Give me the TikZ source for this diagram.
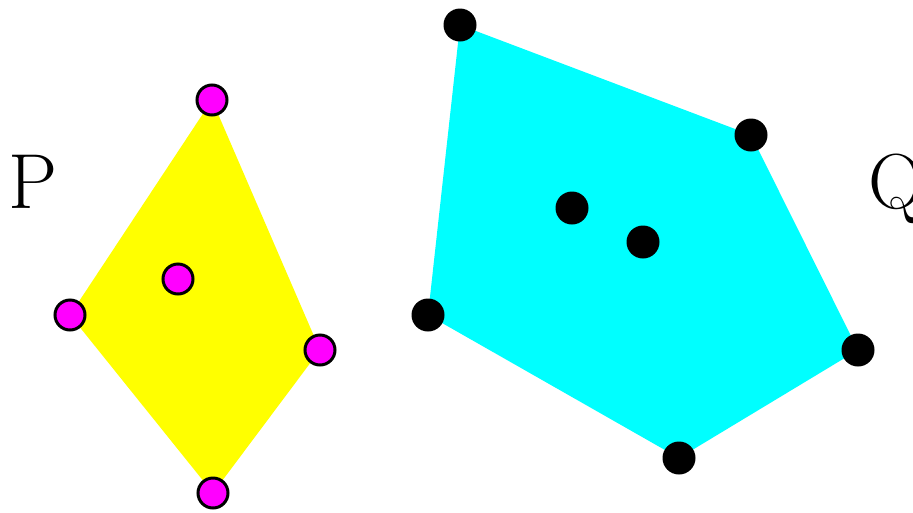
\documentclass[tikz,border=0pt]{standalone}
\usepackage{tikz}
\definecolor{hullP}{RGB}{255,255,0}
\definecolor{hullQ}{RGB}{0,255,255}
\definecolor{dotP}{RGB}{255,0,255}
\tikzset{%
  ptP/.style={fill=dotP, draw=black, line width=3pt},
  ptQ/.style={fill=black},
  setlabel/.style={inner sep=0pt, anchor=base, font=\fontsize{78}{80}\selectfont},
}

\begin{document}
\begin{tikzpicture}[x=1pt, y=-1pt]
    \useasboundingbox (0,0) rectangle (913,512);

    % points of P
    \coordinate (P1) at (212,100);
    \coordinate (P2) at (320,350);
    \coordinate (P3) at (213,493);
    \coordinate (P4) at (70,315);
    \coordinate (P5) at (178,279);

    % points of Q
    \coordinate (Q1) at (460,25);
    \coordinate (Q2) at (751,135);
    \coordinate (Q3) at (858,350);
    \coordinate (Q4) at (679,458);
    \coordinate (Q5) at (428,315);
    \coordinate (Q6) at (572,208);
    \coordinate (Q7) at (643,242);

    %hulls
    \fill[hullP] (P1) -- (P2) -- (P3) -- (P4) -- cycle;
    \fill[hullQ] (Q1) -- (Q2) -- (Q3) -- (Q4) -- (Q5) -- cycle;

    \foreach \p in {P1,P2,P3,P4,P5}
        \draw[ptP] (\p) circle (15);
    \foreach \q in {Q1,Q2,Q3,Q4,Q5,Q6,Q7}
        \fill[ptQ] (\q) circle (16.5);

    % set names
    \node[setlabel] (labP) at (33,208) {P};
    \node[setlabel] (labQ) at (897,208) {Q};

\end{tikzpicture}
\end{document}
